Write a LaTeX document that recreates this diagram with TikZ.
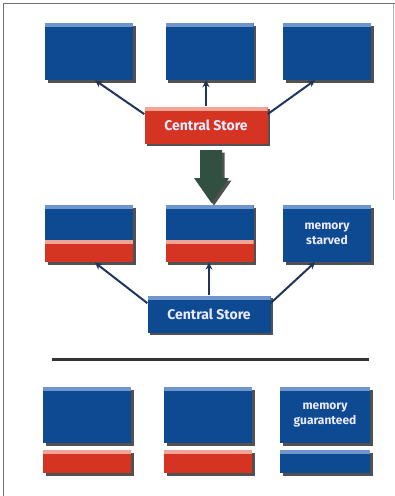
\documentclass[tikz,border=0pt]{standalone}
\usepackage{fontspec}
\setmainfont{Fira Sans}
\usetikzlibrary{positioning,shadows,arrows.meta}

\definecolor{boxblue}{RGB}{14,74,146}
\definecolor{liteblue}{RGB}{110,150,205}
\definecolor{boxred}{RGB}{214,52,34}
\definecolor{pinkred}{RGB}{242,165,150}
\definecolor{arrowgreen}{RGB}{50,80,66}
\definecolor{linknavy}{RGB}{32,52,92}

\tikzset{
  boxshadow/.style={drop shadow={shadow xshift=2.5pt,shadow yshift=-2.5pt,fill=black!80,opacity=.85}},
  blk/.style={fill=boxblue, boxshadow, minimum width=88pt, inner sep=0pt, text=white!92!blue,
    font=\bfseries\fontsize{12}{15}\selectfont, align=center,
    path picture={\fill[#1] (path picture bounding box.north west) rectangle ([yshift=-4pt]path picture bounding box.north east);}},
  blk/.default=liteblue,
  redblk/.style={blk=pinkred, fill=boxred},
  store/.style={minimum width=123pt, minimum height=37pt, font=\bfseries\fontsize{14}{16}\selectfont},
  link/.style={draw=linknavy, line width=2pt, -{Stealth[length=7pt,width=7pt]}}
}

\begin{document}
\begin{tikzpicture}[x=1pt,y=-1pt]
\useasboundingbox (0,0) rectangle (395,496);
\path [draw=black!55, line width=.8pt] (3,496) -- (3,3.5) -- (395,3.5);
\path [draw=black!30, line width=.6pt] (393.5,3.5) -- (393.5,200);

\node [blk, minimum height=57pt] (t1) at (89,51.5) {};
\node [blk, minimum height=57pt] (t2) at (209.5,51.5) {};
\node [blk, minimum height=57pt] (t3) at (327,51.5) {};
\node [redblk, store] (cs1) at (206,125) {Central Store};
\path [link] (cs1.170) -- ([xshift=6pt]t1.south);
\path [link] (cs1.north) -- (cs1.north |- t2.south);
\path [link] (cs1.10) -- ([xshift=-12pt]t3.south);

\path [fill=arrowgreen, boxshadow] (200,150) -- (222,150) -- (222,178) -- (229,178)
  -- (211.5,203) -- (194,178) -- (200,178) -- cycle;

\node [blk, minimum height=35pt] (m1) at (89,222.5) {};
\node [redblk, minimum height=22pt, below=0pt of m1] (m1r) {};
\node [blk, minimum height=35pt] (m2) at (209.5,222.5) {};
\node [redblk, minimum height=22pt, below=0pt of m2] (m2r) {};
\node [blk, minimum height=57pt] (m3) at (327,233.5) {memory\\starved};
\node [blk, store] (cs2) at (209,314) {Central Store};
\path [link] (cs2.170) -- ([xshift=6pt]m1r.south);
\path [link] (cs2.north) -- (cs2.north |- m2r.south);
\path [link] (cs2.10) -- ([xshift=-12pt]m3.south);

\coordinate (l1) at (52,359);
\coordinate (l2) at (369,359);
\path [draw=black!80, line width=3pt] (l1) -- (l2);

\node [blk, minimum height=56pt] (b1) at (87,415) {};
\node [redblk, minimum height=23pt, below=7pt of b1] (b1r) {};
\node [blk, minimum height=56pt] (b2) at (208,415) {};
\node [redblk, minimum height=23pt, below=7pt of b2] (b2r) {};
\node [blk, minimum height=56pt, minimum width=90pt] (b3) at (325,415) {memory\\guaranteed};
\node [blk, minimum height=23pt, minimum width=90pt, below=7pt of b3] (b3r) {};
\end{tikzpicture}
\end{document}
